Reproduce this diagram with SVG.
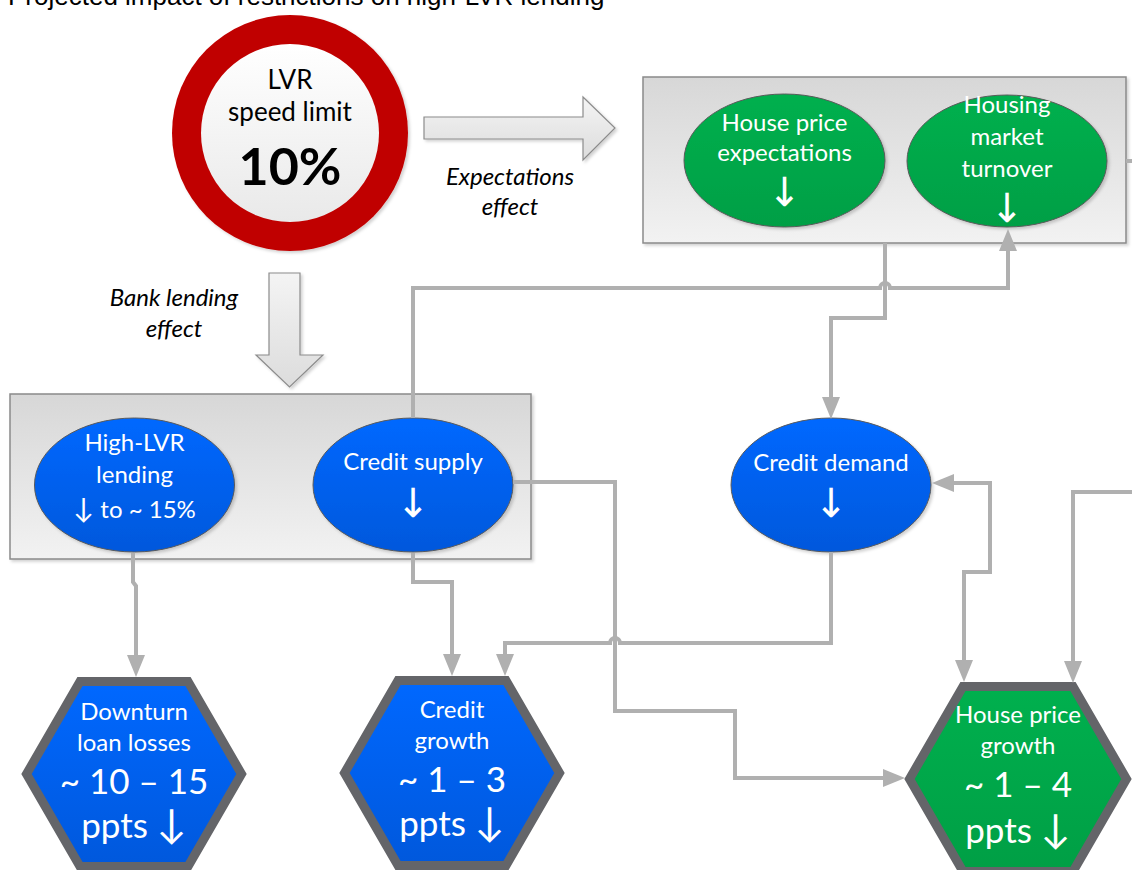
<svg xmlns="http://www.w3.org/2000/svg" width="1132" height="870" viewBox="0 0 1132 870">
<defs>
<linearGradient id="gBox" x1="0" y1="0" x2="0" y2="1"><stop offset="0" stop-color="#d7d7d7"/><stop offset="1" stop-color="#f2f2f2"/></linearGradient>
<linearGradient id="gBlue" x1="0" y1="0" x2="0" y2="1"><stop offset="0" stop-color="#0068ff"/><stop offset="1" stop-color="#0058dc"/></linearGradient>
<linearGradient id="gGreen" x1="0" y1="0" x2="0" y2="1"><stop offset="0" stop-color="#00b04e"/><stop offset="1" stop-color="#009f45"/></linearGradient>
<linearGradient id="gWhite" x1="0" y1="0" x2="0" y2="1"><stop offset="0" stop-color="#ffffff"/><stop offset="1" stop-color="#e9e9e9"/></linearGradient>
<linearGradient id="gArrow" x1="0" y1="0" x2="0" y2="1"><stop offset="0" stop-color="#f4f4f4"/><stop offset="1" stop-color="#dcdcdc"/></linearGradient>
<filter id="sh" x="-10%" y="-10%" width="130%" height="130%"><feDropShadow dx="2" dy="2" stdDeviation="1.5" flood-color="#000" flood-opacity="0.18"/></filter>
<marker id="ah" viewBox="0 0 22 18" markerWidth="22" markerHeight="18" refX="12" refY="9" orient="auto-start-reverse" markerUnits="userSpaceOnUse"><path d="M0,0 L22,9 L0,18 z" fill="#b0b0b0"/></marker>
</defs>
<style>
.t{font-family:Lato,"DejaVu Sans",sans-serif;fill:#fff;text-anchor:middle;font-size:24px}
.big{font-size:35px}
.ar{font-family:"DejaVu Sans",sans-serif;fill:#fff;text-anchor:middle;font-size:40px}
.lab{font-family:Lato,"DejaVu Sans",sans-serif;font-style:italic;fill:#000;text-anchor:middle;font-size:24px}
.blk{font-family:Lato,sans-serif;fill:#000;text-anchor:middle;font-size:26px}
.box{fill:url(#gBox);stroke:#8a8a8a;stroke-width:1.5}
.eb{fill:url(#gBlue);stroke:#5a5a5a;stroke-width:1}
.eg{fill:url(#gGreen);stroke:#5a5a5a;stroke-width:1}
.hex{stroke:#646569;stroke-width:9;stroke-linejoin:miter}
.c{fill:none;stroke:#b0b0b0;stroke-width:4}
.ca{fill:none;stroke:#b0b0b0;stroke-width:4;marker-end:url(#ah)}
.bigarrow{fill:url(#gArrow);stroke:#8c8c8c;stroke-width:1.2}
</style>
<rect width="1132" height="870" fill="#fff"/>
<text x="8" y="5" font-family="Liberation Sans,Arial,sans-serif" font-size="26" fill="#000">Projected impact of restrictions on high-LVR lending</text>

<g id="lvr-speed-limit">
<circle cx="290" cy="133" r="118" fill="#c00000" filter="url(#sh)"/>
<circle cx="290" cy="133" r="89" fill="url(#gWhite)"/>
<text class="blk" x="290" y="89">LVR</text>
<text class="blk" x="290" y="121">speed limit</text>
<text x="290" y="185" font-family="Lato,sans-serif" font-size="52" font-weight="bold" fill="#000" text-anchor="middle">10%</text>
</g>

<g id="expectations-effect">
<path class="bigarrow" d="M424,117 H583 V97 L615,128 L583,160 V139 H424 Z" filter="url(#sh)"/>
<text class="lab" x="510" y="185">Expectations</text>
<text class="lab" x="510" y="215">effect</text>
</g>

<g id="bank-lending-effect">
<path class="bigarrow" d="M269,273 H300 V355 H323 L289.5,387 L256,355 H269 Z" filter="url(#sh)"/>
<text class="lab" x="174" y="306">Bank lending</text>
<text class="lab" x="174" y="337">effect</text>
</g>

<g id="expectations-box">
<rect class="box" x="643" y="77" width="483" height="166" filter="url(#sh)"/>
</g>
<g id="house-price-expectations">
<ellipse class="eg" cx="784.5" cy="160.5" rx="100.5" ry="66.5" filter="url(#sh)"/>
<text class="t" x="784.5" y="131">House price</text>
<text class="t" x="784.5" y="161">expectations</text>
<text class="ar" x="784.5" y="206">↓</text>
</g>
<g id="housing-market-turnover">
<ellipse class="eg" cx="1007" cy="161" rx="100" ry="66" filter="url(#sh)"/>
<text class="t" x="1007" y="113">Housing</text>
<text class="t" x="1007" y="145">market</text>
<text class="t" x="1007" y="177">turnover</text>
<text class="ar" x="1007" y="222">↓</text>
</g>

<g id="bank-lending-box">
<rect class="box" x="10" y="394" width="521" height="165" filter="url(#sh)"/>
</g>
<g id="high-lvr-lending">
<ellipse class="eb" cx="134.5" cy="485" rx="100" ry="67" filter="url(#sh)"/>
<text class="t" x="134.5" y="451">High-LVR</text>
<text class="t" x="134.5" y="483">lending</text>
<text class="t" x="134.5" y="518"><tspan font-size="28">↓</tspan> to ~ 15%</text>
</g>
<g id="credit-supply">
<ellipse class="eb" cx="413" cy="485" rx="100" ry="67" filter="url(#sh)"/>
<text class="t" x="413" y="470">Credit supply</text>
<text class="ar" x="413" y="517">↓</text>
</g>
<g id="credit-demand">
<ellipse class="eb" cx="831" cy="485" rx="100" ry="67" filter="url(#sh)"/>
<text class="t" x="831" y="471">Credit demand</text>
<text class="ar" x="831" y="517">↓</text>
</g>

<g id="downturn-loan-losses">
<polygon class="hex" fill="url(#gBlue)" points="80,681.5 188,681.5 241.5,774 188,866.5 80,866.5 26.5,774"/>
<text class="t" x="134" y="720">Downturn</text>
<text class="t" x="134" y="751">loan losses</text>
<text class="t big" x="134" y="794">~ 10 – 15</text>
<text class="t big" x="134" y="838">ppts <tspan font-size="40">↓</tspan></text>
</g>
<g id="credit-growth">
<polygon class="hex" fill="url(#gBlue)" points="398,680.5 506,680.5 559.5,773 506,865.5 398,865.5 344.5,773"/>
<text class="t" x="452" y="718">Credit</text>
<text class="t" x="452" y="749">growth</text>
<text class="t big" x="452" y="792">~ 1 – 3</text>
<text class="t big" x="452" y="836">ppts <tspan font-size="40">↓</tspan></text>
</g>
<g id="house-price-growth">
<polygon class="hex" fill="url(#gGreen)" points="963,686.5 1073,686.5 1126.5,779 1073,871.5 963,871.5 909.5,779"/>
<text class="t" x="1018" y="723">House price</text>
<text class="t" x="1018" y="754">growth</text>
<text class="t big" x="1018" y="797">~ 1 – 4</text>
<text class="t big" x="1018" y="843">ppts <tspan font-size="40">↓</tspan></text>
</g>

<g id="connectors">
<path class="ca" d="M133,553 V582 L136,586 V667"/>
<path class="ca" d="M413,553 V582 H452 V666"/>
<path class="ca" d="M413,418 V288 H880 A5,5 0 0 1 890,288 H1008 V239"/>
<path class="ca" d="M885,243 V318 H831 V409"/>
<path class="ca" d="M513,482 H615 V711 H735 V778 H895"/>
<path class="ca" d="M831,552 V643 H620 A5,5 0 0 0 610,643 H505 V666"/>
<path class="ca" d="M942,483 H990 V572 H964 V672" marker-start="url(#ah)"/>
<path class="ca" d="M1132,492 H1073 V673"/>
<path class="c" d="M1126,161 H1132"/>
</g>
</svg>
